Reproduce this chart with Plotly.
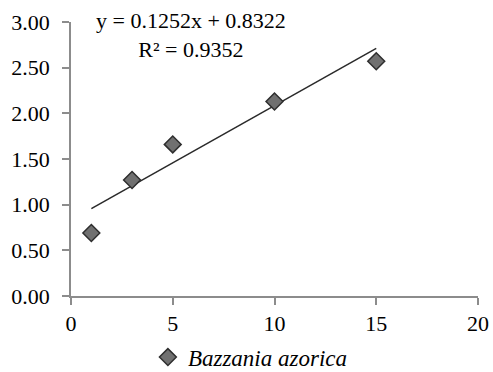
import plotly.graph_objects as go

# Measured values
x_vals = [1, 3, 5, 10, 15]
y_vals = [0.69, 1.27, 1.66, 2.13, 2.57]
series_name = "Bazzania azorica"

# Linear trend reported in the equation label
slope = 0.1252
intercept = 0.8322
r_squared = 0.9352

x_ticks = [0, 5, 10, 15, 20]
y_ticks = [0.0, 0.5, 1.0, 1.5, 2.0, 2.5, 3.0]

trend_x = [min(x_vals), max(x_vals)]
trend_y = [slope * v + intercept for v in trend_x]

serif = "'Liberation Serif', 'Times New Roman', serif"

fig = go.Figure()
fig.add_trace(go.Scatter(
    x=trend_x, y=trend_y, mode="lines",
    line=dict(color="#2a2a2a", width=1.5),
    showlegend=False, hoverinfo="skip",
))
fig.add_trace(go.Scatter(
    x=x_vals, y=y_vals, mode="markers", name=series_name,
    marker=dict(symbol="diamond", size=13, color="#707070",
                line=dict(color="#2e2e2e", width=1.5)),
))

fig.add_annotation(
    x=0.295, y=0.953, xref="paper", yref="paper",
    text=f"y = {slope}x + {intercept}<br>R² = {r_squared}",
    showarrow=False, align="center", xanchor="center", yanchor="middle",
    font=dict(family=serif, size=22, color="#000000"),
)

axis_common = dict(
    showgrid=False, zeroline=False, showline=True, automargin=False,
    linecolor="#8c8c8c", linewidth=1.5,
    ticks="outside", ticklen=7, tickwidth=1.5, tickcolor="#8c8c8c",
    tickfont=dict(family=serif, size=22, color="#000000"),
)

fig.update_layout(
    width=493, height=372,
    margin=dict(l=71, r=15, t=22, b=76),
    paper_bgcolor="white", plot_bgcolor="white",
    xaxis=dict(range=[0, 20], tickvals=x_ticks, **axis_common),
    yaxis=dict(range=[0, 3], tickvals=y_ticks, tickformat=".2f",
               ticklabelstandoff=8, **axis_common),
    legend=dict(
        orientation="h", xref="container", yref="container",
        x=0.30, y=0.04, xanchor="left", yanchor="middle",
        font=dict(family=serif, size=23, color="#000000", style="italic"),
        itemwidth=30, bgcolor="rgba(0,0,0,0)",
    ),
)

fig.write_html("out.html")
